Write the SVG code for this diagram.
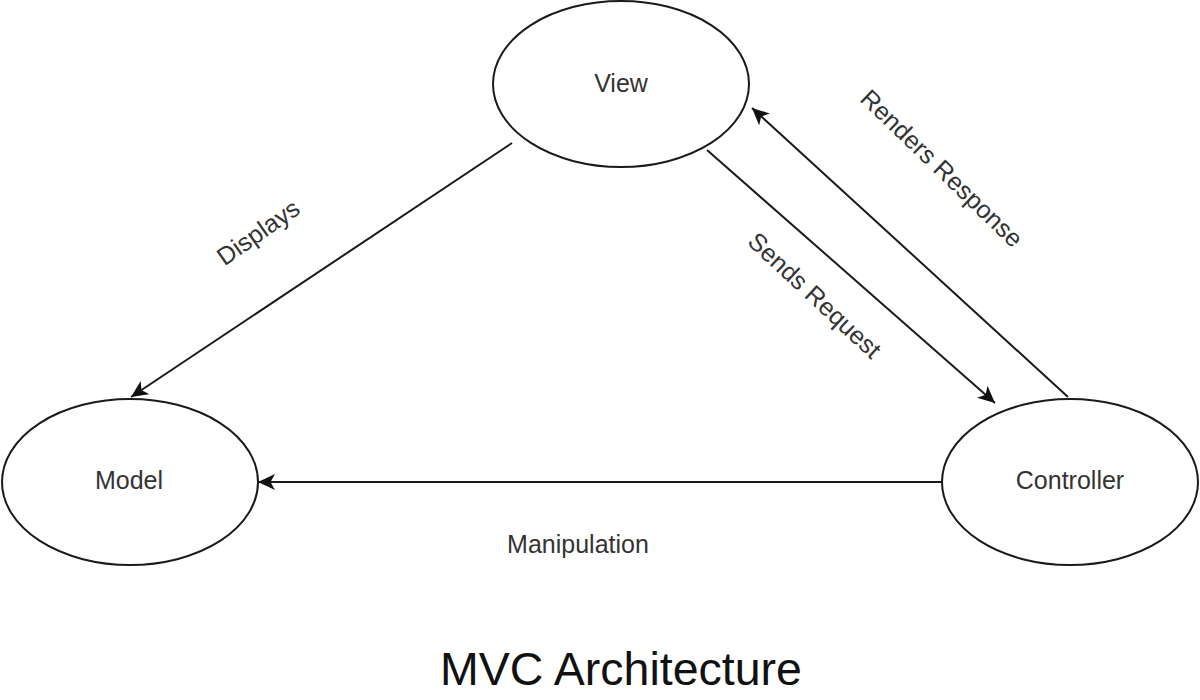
<svg xmlns="http://www.w3.org/2000/svg" width="1200" height="700" viewBox="0 0 1200 700">
  <style>
    .node ellipse { fill: #ffffff; stroke: #1a1a1a; stroke-width: 2; }
    .lbl { font-family: "Liberation Sans", Arial, sans-serif; font-size: 25px; fill: #333333; text-anchor: middle; }
    .edge line { stroke: #1a1a1a; stroke-width: 2; fill: none; marker-end: url(#arrow); }
    .title { font-family: "Liberation Sans", Arial, sans-serif; font-size: 46.5px; fill: #111111; text-anchor: middle; }
  </style>
  <defs>
    <marker id="arrow" markerUnits="userSpaceOnUse" markerWidth="20" markerHeight="18" refX="17" refY="8" orient="auto">
      <path d="M0,0 L17,8 L0,16 L4.5,8 Z" fill="#111111"/>
    </marker>
  </defs>
  <rect width="1200" height="700" fill="#ffffff"/>

  <g id="connectors" class="edge">
    <line id="e-displays" x1="512" y1="143" x2="131" y2="397"/>
    <line id="e-sends" x1="707" y1="150" x2="995" y2="403"/>
    <line id="e-renders" x1="1068" y1="397" x2="752" y2="108"/>
    <line id="e-manip" x1="942" y1="482" x2="258" y2="482"/>
  </g>

  <g id="edge-labels">
    <text class="lbl" transform="translate(258,232) rotate(-35)" y="9">Displays</text>
    <text class="lbl" transform="translate(815,295) rotate(43)" y="9">Sends Request</text>
    <text class="lbl" transform="translate(942,168) rotate(44)" y="9">Renders Response</text>
    <text class="lbl" x="578" y="553">Manipulation</text>
  </g>

  <g id="view" class="node">
    <ellipse cx="621" cy="84" rx="128" ry="83"/>
    <text class="lbl" x="621" y="92">View</text>
  </g>
  <g id="model" class="node">
    <ellipse cx="130" cy="482" rx="128" ry="83"/>
    <text class="lbl" x="129" y="489">Model</text>
  </g>
  <g id="controller" class="node">
    <ellipse cx="1070" cy="482" rx="128" ry="83"/>
    <text class="lbl" x="1070" y="489">Controller</text>
  </g>

  <text id="title" class="title" x="621" y="685">MVC Architecture</text>
</svg>
